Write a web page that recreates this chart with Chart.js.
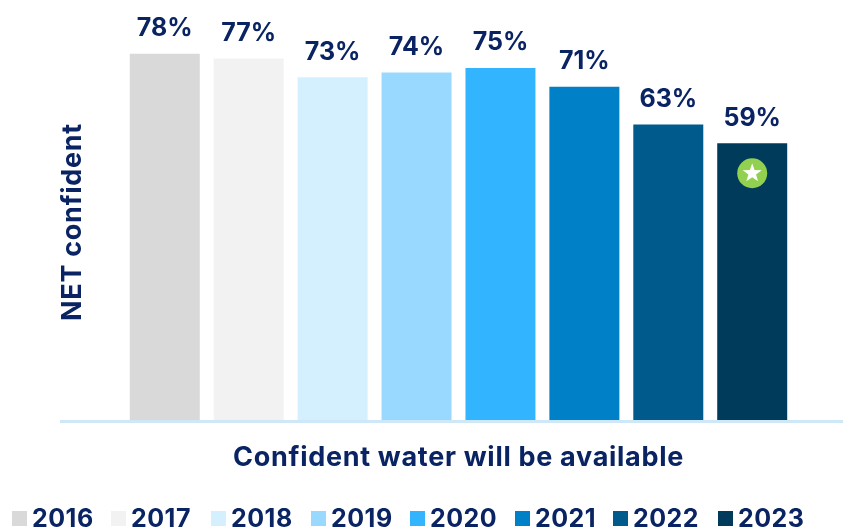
<!DOCTYPE html>
<html>
<head>
<meta charset="utf-8">
<title>NET confident</title>
<script src="https://cdn.jsdelivr.net/npm/chart.js@4/dist/chart.umd.js"></script>
<style>
    html, body { margin: 0; padding: 0; background: #fff; overflow: hidden; }
    #wrap { position: relative; width: 843px; height: 529px; }
    #legend { position: absolute; top: 503px; left: 0; height: 26px; font: 700 25px Inter, sans-serif; letter-spacing: 0.5px; color: #0a2463; }
    #legend div { position: absolute; top: 0; white-space: nowrap; line-height: 30px; }
    #legend i { position: absolute; left: 0; top: 8px; width: 15px; height: 15px; }
    #legend span { position: absolute; left: 20px; top: 0; }
</style>
</head>
<body>
<div id="wrap">
    <canvas id="water_chart" width="843" height="529"></canvas>
    <div id="legend"></div>
</div>
<script>
const categories = ['Confident water will be available'];
const years = ['2016', '2017', '2018', '2019', '2020', '2021', '2022', '2023'];
const netConfident = [78, 77, 73, 74, 75, 71, 63, 59];
const barColors = ['#d9d9d9', '#f2f2f2', '#d4f0ff', '#99d9ff', '#33b4ff', '#0080c6', '#005a8c', '#003b5c'];
const legendLeft = [12, 111, 211, 311, 410, 515, 613, 718];

const textColor = '#0a2463';
const fontFamily = 'Inter, sans-serif';
const titleSpacing = '0.7px';

// value labels, the axis line, the side title and the star badge on the last bar
const chartExtras = {
    id: 'chartExtras',
    beforeDraw(chart) {
        // Inter runs narrower than the heading needs, open it up a little
        chart.ctx.letterSpacing = titleSpacing;
    },
    afterDatasetsDraw(chart) {
        const ctx = chart.ctx;
        const area = chart.chartArea;

        ctx.save();
        ctx.fillStyle = '#cfe8f8';
        ctx.fillRect(60, area.bottom - 1, 783, 3);

        ctx.fillStyle = textColor;
        ctx.font = '700 25px ' + fontFamily;
        ctx.textAlign = 'center';
        ctx.textBaseline = 'middle';
        ctx.letterSpacing = '0px';
        chart.data.datasets.forEach(function (dataset, i) {
            const bar = chart.getDatasetMeta(i).data[0];
            ctx.fillText(dataset.data[0] + '%', bar.x, bar.y - 25);
        });

        ctx.save();
        ctx.font = '700 27px ' + fontFamily;
        ctx.letterSpacing = titleSpacing;
        ctx.translate(73, 222);
        ctx.rotate(-Math.PI / 2);
        ctx.fillText('NET confident', 0, 0);
        ctx.restore();

        const last = chart.getDatasetMeta(years.length - 1).data[0];
        drawStarBadge(ctx, last.x, last.y + 30);
        ctx.restore();
    },
};

function drawStarBadge(ctx, x, y) {
    ctx.fillStyle = '#92d050';
    ctx.beginPath();
    ctx.arc(x, y, 15, 0, Math.PI * 2);
    ctx.fill();

    ctx.fillStyle = '#ffffff';
    ctx.beginPath();
    for (let i = 0; i < 10; i++) {
        const radius = i % 2 === 0 ? 10 : 4;
        const angle = -Math.PI / 2 + i * Math.PI / 5;
        ctx.lineTo(x + radius * Math.cos(angle), y + radius * Math.sin(angle));
    }
    ctx.closePath();
    ctx.fill();
}

const chart = new Chart(document.getElementById('water_chart').getContext('2d'), {
    type: 'bar',
    data: {
        labels: categories,
        datasets: years.map(function (year, i) {
            return {
                label: year,
                data: [netConfident[i]],
                backgroundColor: barColors[i],
                barPercentage: 0.834,
                categoryPercentage: 0.873,
            };
        }),
    },
    options: {
        responsive: false,
        animation: false,
        layout: {
            padding: { left: 74, right: 0, top: 2, bottom: 0 },
        },
        plugins: {
            legend: { display: false },
            tooltip: { enabled: false },
        },
        scales: {
            y: {
                display: false,
                min: 0,
                max: 89,
            },
            x: {
                grid: { display: false },
                border: { display: false },
                afterFit: function (scale) {
                    scale.height = 108;
                },
                ticks: {
                    color: textColor,
                    padding: 13,
                    maxRotation: 0,
                    font: { family: fontFamily, size: 27, weight: '700' },
                },
            },
        },
    },
    plugins: [chartExtras],
});

// legend sits under the chart, built from the datasets
const legendBox = document.getElementById('legend');
chart.data.datasets.forEach(function (dataset, i) {
    const item = document.createElement('div');
    item.style.left = legendLeft[i] + 'px';
    item.innerHTML = '<i style="background:' + dataset.backgroundColor + '"></i><span>' + dataset.label + '</span>';
    legendBox.appendChild(item);
});
</script>
</body>
</html>
